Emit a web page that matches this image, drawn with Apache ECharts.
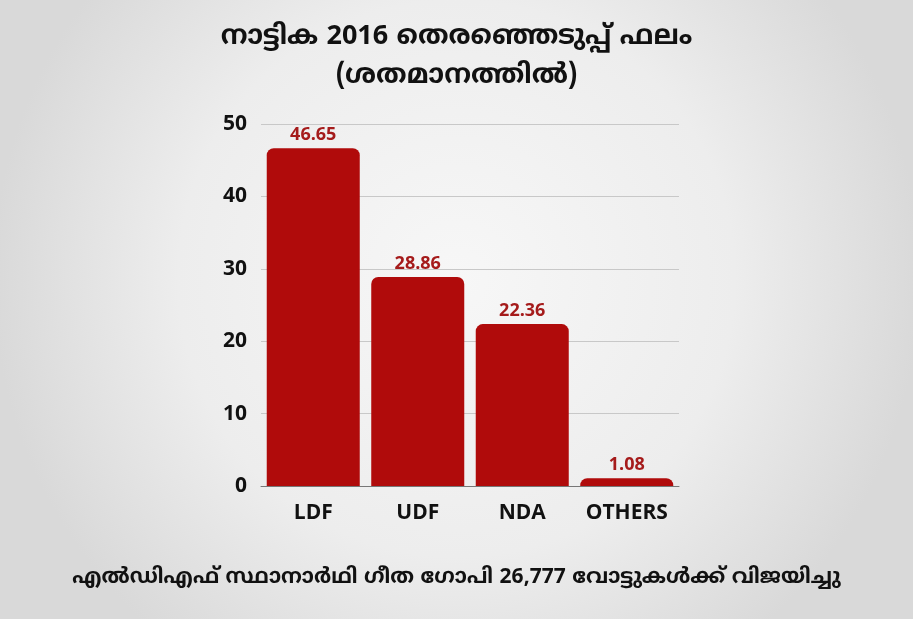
<!DOCTYPE html>
<html>
<head>
<meta charset="utf-8">
<script src="https://cdn.jsdelivr.net/npm/echarts@6/dist/echarts.min.js"></script>
<style>
  html, body { margin: 0; padding: 0; }
  #chart { width: 913px; height: 619px; }
</style>
</head>
<body>
<div id="chart"></div>
<script>
// data
var parties = ['LDF', 'UDF', 'NDA', 'OTHERS'];
var voteShare = [46.65, 28.86, 22.36, 1.08];
var titleLines = ['നാട്ടിക 2016 തെരഞ്ഞെടുപ്പ് ഫലം', '(ശതമാനത്തിൽ)'];
var footerText = 'എൽഡിഎഫ് സ്ഥാനാർഥി ഗീത ഗോപി 26,777 വോട്ടുകൾക്ക് വിജയിച്ചു';

var mlFont = '"Noto Sans Malayalam", "Noto Sans", "Open Sans", sans-serif';
var numFont = '"Open Sans", "Noto Sans", sans-serif';

var myChart = echarts.init(document.getElementById('chart'));
var option = {
  backgroundColor: {
    type: 'radial', x: 0.5, y: 0.45, r: 0.75,
    colorStops: [
      {offset: 0, color: '#f7f7f7'},
      {offset: 0.6, color: '#ededed'},
      {offset: 1, color: '#d9d9d9'}
    ]
  },
  title: [
    {
      text: titleLines.join('\n'),
      left: 'center',
      top: 14,
      textStyle: {
        fontFamily: mlFont, fontSize: 27, fontWeight: 'bold', color: '#111',
        lineHeight: 39
      }
    },
    {
      text: footerText,
      left: 'center',
      top: 563,
      textStyle: {fontFamily: mlFont, fontSize: 21, fontWeight: 'bold', color: '#111'}
    }
  ],
  grid: {left: 261, right: 234, top: 124, bottom: 133},
  xAxis: {
    type: 'category',
    data: parties,
    axisLine: {lineStyle: {color: '#777', width: 1}},
    axisTick: {show: false},
    axisLabel: {
      interval: 0,
      color: '#111', fontFamily: numFont, fontWeight: 'bold', fontSize: 21, margin: 17
    }
  },
  yAxis: {
    type: 'value',
    min: 0, max: 50, interval: 10,
    axisLine: {show: false},
    axisTick: {show: false},
    splitLine: {lineStyle: {color: '#c8c8c8', width: 1}},
    axisLabel: {
      color: '#111', fontFamily: numFont, fontWeight: 'bold', fontSize: 21, margin: 14
    }
  },
  series: [{
    type: 'bar',
    data: voteShare,
    barCategoryGap: '11%',
    itemStyle: {color: '#b00b0b', borderRadius: [7, 7, 0, 0]},
    label: {
      show: true, position: 'top', distance: 4,
      color: '#a51b1b', fontFamily: numFont, fontWeight: 'bold', fontSize: 18
    }
  }]
};
myChart.setOption(option);
</script>
</body>
</html>
